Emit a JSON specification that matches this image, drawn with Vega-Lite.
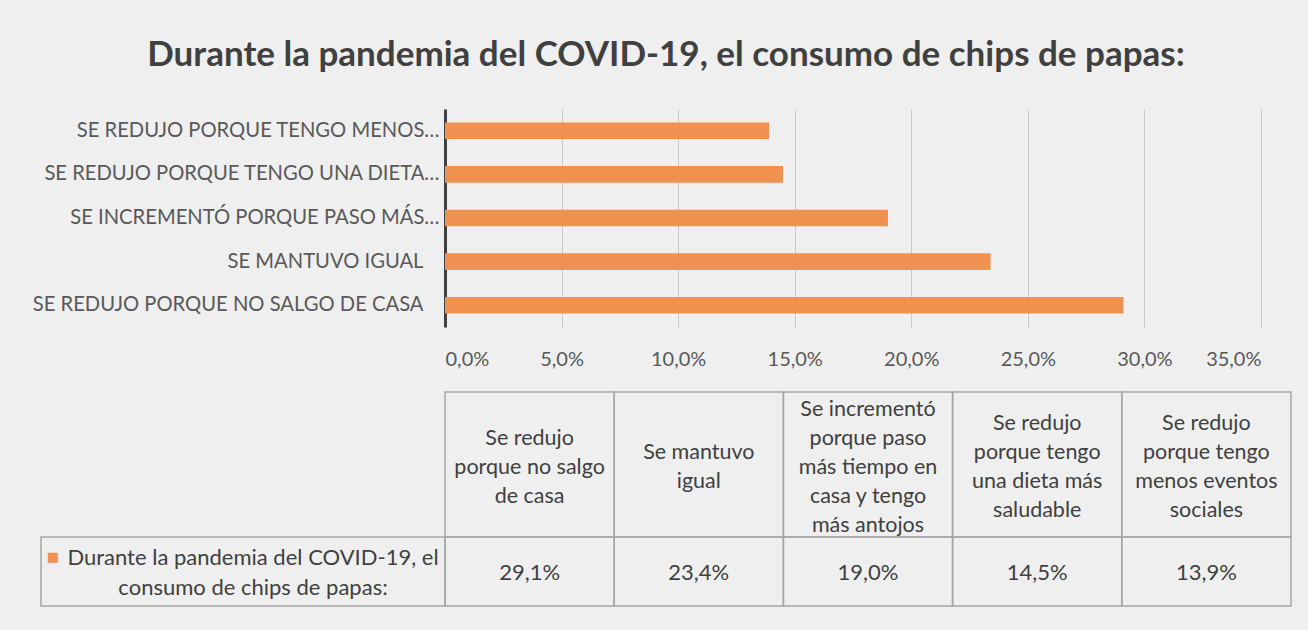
{
  "$schema": "https://vega.github.io/schema/vega-lite/v6.json",
  "background": "#efefef",
  "padding": {"left": 32, "top": 38, "right": 18, "bottom": 24},
  "config": {
    "font": "Lato",
    "view": {"stroke": null},
    "locale": {"number": {"decimal": ",", "thousands": ".", "grouping": [3], "currency": ["", " €"]}},
    "axis": {"labelFont": "Lato"}
  },
  "datasets": {
    "datos": [
      {"categoria": "Se redujo porque no salgo de casa", "etiqueta": "SE REDUJO PORQUE NO SALGO DE CASA", "encabezado": "Se redujo\nporque no salgo\nde casa", "valor": 0.291},
      {"categoria": "Se mantuvo igual", "etiqueta": "SE MANTUVO IGUAL", "encabezado": "Se mantuvo\nigual", "valor": 0.234},
      {"categoria": "Se incrementó porque paso más tiempo en casa y tengo más antojos", "etiqueta": "SE INCREMENTÓ PORQUE PASO MÁS…", "encabezado": "Se incrementó\nporque paso\nmás tiempo en\ncasa y tengo\nmás antojos", "valor": 0.19},
      {"categoria": "Se redujo porque tengo una dieta más saludable", "etiqueta": "SE REDUJO PORQUE TENGO UNA DIETA…", "encabezado": "Se redujo\nporque tengo\nuna dieta más\nsaludable", "valor": 0.145},
      {"categoria": "Se redujo porque tengo menos eventos sociales", "etiqueta": "SE REDUJO PORQUE TENGO MENOS…", "encabezado": "Se redujo\nporque tengo\nmenos eventos\nsociales", "valor": 0.139}
    ],
    "serie": [
      {"serie": "Durante la pandemia del COVID-19, el\nconsumo de chips de papas:"}
    ]
  },
  "title": {
    "text": "Durante la pandemia del COVID-19, el consumo de chips de papas:",
    "anchor": "middle",
    "fontSize": 35,
    "fontWeight": "bold",
    "color": "#404040",
    "font": "Lato",
    "offset": 36,
    "dx": 4
  },
  "bounds": "flush",
  "spacing": 65,
  "vconcat": [
    {
      "width": 816,
      "height": 218,
      "data": {"name": "datos"},
      "mark": {"type": "bar", "color": "#F0914F"},
      "encoding": {
        "y": {
          "field": "etiqueta",
          "type": "nominal",
          "sort": "x",
          "scale": {"paddingInner": 0.62, "paddingOuter": 0.31},
          "axis": {
            "title": null,
            "labelFontSize": 20.2,
            "labelColor": "#595959",
            "domainColor": "#404040",
            "domainWidth": 3,
            "ticks": false,
            "labelPadding": {"condition": {"test": "indexof(datum.label, '…') < 0", "value": 22}, "value": 6},
            "labelLimit": 600
          }
        },
        "x": {
          "field": "valor",
          "type": "quantitative",
          "scale": {"domain": [0, 0.35], "nice": false},
          "axis": {
            "title": null,
            "format": ".1%",
            "values": [0, 0.05, 0.1, 0.15, 0.2, 0.25, 0.3, 0.35],
            "grid": true,
            "gridColor": "#c8c8c8",
            "gridWidth": 1,
            "domain": false,
            "ticks": false,
            "labelFontSize": 20,
            "labelColor": "#595959",
            "labelPadding": 22
          }
        }
      }
    },
    {
      "bounds": "flush",
      "spacing": 0,
      "vconcat": [
        {
          "width": 846,
          "height": 145,
          "data": {"name": "datos"},
          "encoding": {
            "x": {
              "field": "encabezado",
              "type": "nominal",
              "sort": {"field": "valor", "order": "descending"},
              "scale": {"paddingInner": 0, "paddingOuter": 0},
              "axis": null
            }
          },
          "layer": [
            {"mark": {"type": "rect", "fill": "transparent", "stroke": "#a6a6a6", "strokeWidth": 1.5}},
            {
              "mark": {
                "type": "text",
                "fontSize": 21.5,
                "lineBreak": "\n",
                "lineHeight": 29,
                "color": "#404040",
                "dy": {"expr": "3 - (length(split(datum.encabezado, '\\n')) - 1) * 14.5"}
              },
              "encoding": {"text": {"field": "encabezado"}}
            }
          ]
        },
        {
          "width": 846,
          "height": 69,
          "layer": [
            {
              "data": {"name": "datos"},
              "encoding": {
                "x": {
                  "field": "encabezado",
                  "type": "nominal",
                  "sort": {"field": "valor", "order": "descending"},
                  "scale": {"paddingInner": 0, "paddingOuter": 0},
                  "axis": null
                }
              },
              "layer": [
                {"mark": {"type": "rect", "fill": "transparent", "stroke": "#a6a6a6", "strokeWidth": 1.5}},
                {
                  "mark": {"type": "text", "fontSize": 22, "color": "#404040", "dy": 1},
                  "encoding": {"text": {"field": "valor", "type": "quantitative", "format": ".1%"}}
                }
              ]
            },
            {
              "data": {"name": "serie"},
              "encoding": {
                "x": {"datum": -1, "type": "quantitative", "scale": {"domain": [0, 2.0941], "nice": false, "zero": false}, "axis": null}
              },
              "layer": [
                {
                  "mark": {"type": "rect", "fill": "transparent", "stroke": "#a6a6a6", "strokeWidth": 1.5},
                  "encoding": {"x2": {"datum": 0}}
                },
                {
                  "mark": {"type": "text", "fontSize": 22, "color": "#404040", "lineBreak": "\n", "lineHeight": 30, "dx": 10, "dy": -14},
                  "encoding": {"x": {"datum": -0.5, "type": "quantitative"}, "text": {"field": "serie"}}
                },
                {
                  "mark": {"type": "text", "fontSize": 13, "color": "#F0914F", "font": "DejaVu Sans", "dx": -190, "dy": -15},
                  "encoding": {"x": {"datum": -0.5, "type": "quantitative"}, "text": {"value": "■"}}
                }
              ]
            }
          ],
          "resolve": {"scale": {"x": "independent"}}
        }
      ]
    }
  ]
}
